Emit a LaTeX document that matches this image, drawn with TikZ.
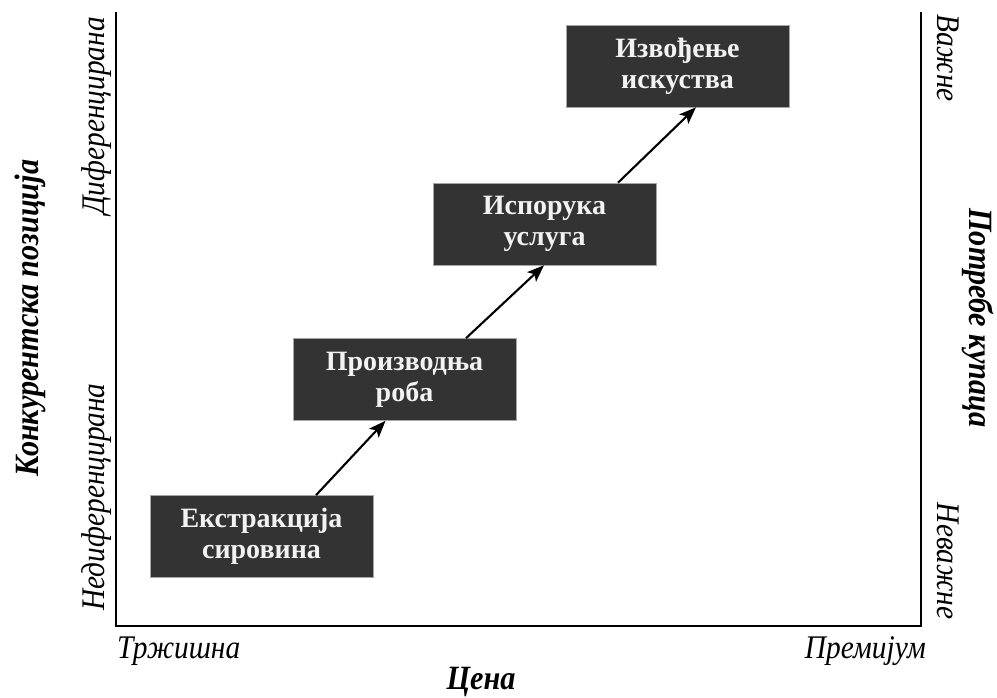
\documentclass[tikz,border=0pt]{standalone}
\usepackage{fontspec}
\setmainfont{Liberation Serif}
\newfontfamily\condserif[FakeStretch=0.89]{Liberation Serif}
\usetikzlibrary{arrows.meta,calc}
\definecolor{boxfill}{HTML}{333333}
\definecolor{boxtext}{HTML}{F2F2F2}
\tikzset{
  stagebox/.style={rectangle, fill=boxfill, draw=gray!70, line width=0.6pt,
    minimum width=223pt, minimum height=82pt, align=center, text=boxtext,
    font=\fontsize{28}{31}\selectfont\bfseries, inner sep=0pt},
  axisline/.style={line width=2.8pt, line cap=rect},
  flow/.style={line width=2.1pt, -{Stealth[length=17pt,width=13pt,inset=4pt]}},
  ticklabel/.style={font=\condserif\fontsize{33}{36}\selectfont\itshape, inner sep=0pt},
  axistitle/.style={font=\condserif\fontsize{34}{36}\selectfont\bfseries\itshape, inner sep=0pt}
}
\begin{document}
\begin{tikzpicture}[x=1pt,y=1pt]
\useasboundingbox[fill=white] (0,0) rectangle (997,697);
% axes (y = 697 - ypx)
\coordinate (tl) at (116,684);
\coordinate (bl) at (116,71);
\coordinate (br) at (921,71);
\coordinate (tr) at (921,684);
\draw[axisline] (tl) -- (bl) -- (br) -- (tr);
% boxes
\node[stagebox] (b1) at (261.5,160.5) {Екстракција\\сировина};
\node[stagebox] (b2) at (404.5,317.5) {Производња\\роба};
\node[stagebox] (b3) at (544.5,473) {Испорука\\услуга};
\node[stagebox] (b4) at (677.5,631) {Извођење\\искуства};
% arrows
\draw[flow] ($(b1.north)+(54.5,0)$) -- ($(b2.south)+(-19,0)$);
\draw[flow] ($(b2.north)+(61.5,0)$) -- ($(b3.south)+(-0.5,0)$);
\draw[flow] ($(b3.north)+(73.5,0)$) -- ($(b4.south)+(18.5,0)$);
% left labels
\node[axistitle, rotate=90] (ylab) at (30,379) {Конкурентска позиција};
\node[ticklabel, rotate=90] (yhi) at (97,581) {Диференцирана};
\node[ticklabel, rotate=90] (ylo) at (97,200) {Недиференцирана};
% right labels
\node[ticklabel, rotate=-90] (rhi) at (948,639) {Важне};
\node[axistitle, rotate=-90] (rlab) at (978,379) {Потребе купаца};
\node[ticklabel, rotate=-90] (rlo) at (948,136) {Неважне};
% bottom labels
\node[ticklabel, anchor=west] (xlo) at (117,46) {Тржишна};
\node[ticklabel, anchor=east] (xhi) at (926,46) {Премијум};
\node[axistitle] (xlab) at (481,15) {Цена};
\end{tikzpicture}
\end{document}
